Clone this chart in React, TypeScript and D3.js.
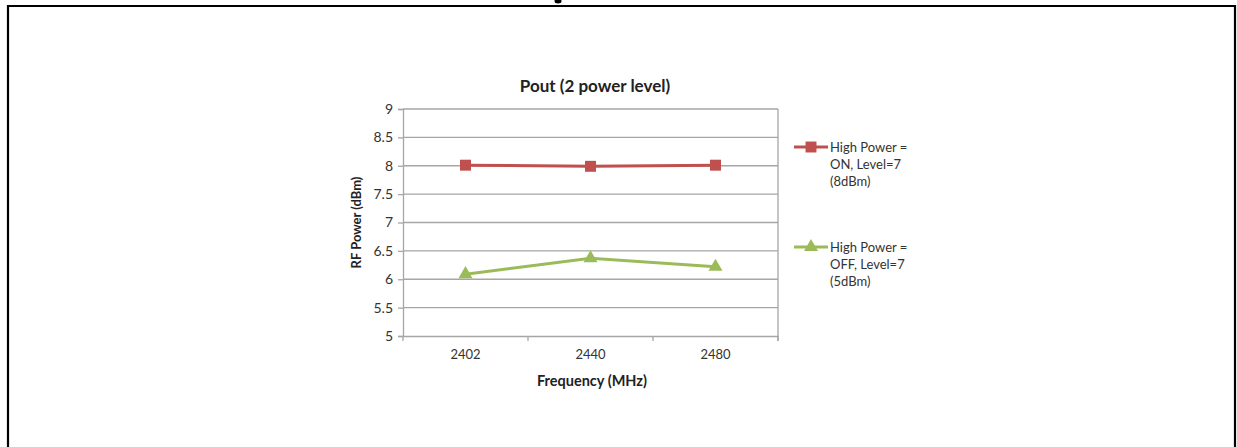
import React, { useEffect, useRef } from 'react';
import * as d3 from 'd3';

const frequencies = ['2402', '2440', '2480'];
const highPowerOn = [8.01, 7.99, 8.01];
const highPowerOff = [6.09, 6.37, 6.22];
const yTicks = [5, 5.5, 6, 6.5, 7, 7.5, 8, 8.5, 9];
const seriesNames = [
  ['High Power =', 'ON, Level=7', '(8dBm)'],
  ['High Power =', 'OFF, Level=7', '(5dBm)'],
];
const seriesColors = ['#C0504D', '#9BBB59'];

const W = 1237;
const H = 447;
const FONT = 'Lato, "Open Sans", sans-serif';

const App: React.FC = () => {
  const ref = useRef<SVGSVGElement>(null);

  useEffect(() => {
    if (!ref.current) return;
    const svg = d3.select(ref.current);
    svg.selectAll('*').remove();

    const left = 403, right = 778, top = 109, bottom = 336;

    // outer frame (only the top and sides are visible)
    svg.append('path')
      .attr('d', `M8,${H + 5} V6 H1235 V${H + 5}`)
      .attr('fill', 'none')
      .attr('stroke', '#000')
      .attr('stroke-width', 2.2);

    // bit of the heading above the frame that got cut off by the crop
    svg.append('ellipse')
      .attr('cx', 558).attr('cy', 1)
      .attr('rx', 3.5).attr('ry', 2.5)
      .attr('fill', '#000');

    const x = d3.scaleBand().domain(frequencies).range([left, right]);
    const y = d3.scaleLinear().domain([5, 9]).range([bottom, top]);

    const g = svg.append('g');

    // gridlines
    g.selectAll('line.grid')
      .data(yTicks.filter(t => t > 5))
      .enter()
      .append('line')
      .attr('x1', left).attr('x2', right)
      .attr('y1', d => y(d)).attr('y2', d => y(d))
      .attr('stroke', '#a6a6a6')
      .attr('stroke-width', 1.3);

    // plot border right side
    g.append('line')
      .attr('x1', right).attr('x2', right)
      .attr('y1', top).attr('y2', bottom + 5)
      .attr('stroke', '#a6a6a6').attr('stroke-width', 1.3);

    // y axis
    const yAxis = g.append('g')
      .attr('transform', `translate(${left},0)`)
      .call(d3.axisLeft(y).tickValues(yTicks).tickSize(5).tickPadding(5).tickFormat(d => String(d)));
    yAxis.select('.domain').attr('stroke', '#a6a6a6').attr('stroke-width', 1.3);
    yAxis.selectAll('.tick line').attr('stroke', '#a6a6a6').attr('stroke-width', 1.3);
    yAxis.selectAll('.tick text')
      .attr('font-family', FONT).attr('font-size', 14).attr('fill', '#333');

    // x axis
    const xAxis = g.append('g')
      .attr('transform', `translate(0,${bottom})`)
      .call(d3.axisBottom(x).tickSize(0).tickPadding(14));
    xAxis.select('.domain').attr('stroke', '#a6a6a6').attr('stroke-width', 1.3);
    xAxis.selectAll('.tick text')
      .attr('font-family', FONT).attr('font-size', 13).attr('fill', '#333');
    // category boundary ticks
    const bounds = frequencies.map(f => x(f) as number).concat([right]);
    xAxis.selectAll('line.bound')
      .data(bounds)
      .enter()
      .append('line')
      .attr('x1', d => d).attr('x2', d => d)
      .attr('y1', 0).attr('y2', 5)
      .attr('stroke', '#a6a6a6').attr('stroke-width', 1.3);

    const cx = (f: string) => (x(f) as number) + x.bandwidth() / 2;
    const line = d3.line<number>()
      .x((_, i) => cx(frequencies[i]))
      .y(d => y(d));

    const square = d3.symbol().type(d3.symbolSquare).size(120);
    const triangle = d3.symbol().type(d3.symbolTriangle).size(85);

    [highPowerOn, highPowerOff].forEach((vals, si) => {
      g.append('path')
        .attr('d', line(vals) || '')
        .attr('fill', 'none')
        .attr('stroke', seriesColors[si])
        .attr('stroke-width', 3);
      g.selectAll(`path.m${si}`)
        .data(vals)
        .enter()
        .append('path')
        .attr('transform', (d, i) => `translate(${cx(frequencies[i])},${y(d)})`)
        .attr('d', si === 0 ? square() : triangle())
        .attr('fill', seriesColors[si]);
    });

    // titles
    svg.append('text')
      .attr('x', 595).attr('y', 92)
      .attr('text-anchor', 'middle')
      .attr('font-family', FONT).attr('font-weight', 'bold').attr('font-size', 17).attr('fill', '#222')
      .text('Pout (2 power level)');
    svg.append('text')
      .attr('x', 592).attr('y', 386)
      .attr('text-anchor', 'middle')
      .attr('font-family', FONT).attr('font-weight', 'bold').attr('font-size', 14.5).attr('fill', '#222')
      .text('Frequency (MHz)');
    svg.append('text')
      .attr('transform', `translate(361,${(top + bottom) / 2}) rotate(-90)`)
      .attr('text-anchor', 'middle')
      .attr('font-family', FONT).attr('font-weight', 'bold').attr('font-size', 13).attr('fill', '#222')
      .text('RF Power (dBm)');

    // legend
    const legendY = [147, 247];
    seriesNames.forEach((lines, si) => {
      const lg = svg.append('g').attr('transform', `translate(794,${legendY[si]})`);
      lg.append('line')
        .attr('x1', 0).attr('x2', 34).attr('y1', 0).attr('y2', 0)
        .attr('stroke', seriesColors[si]).attr('stroke-width', 3);
      lg.append('path')
        .attr('transform', 'translate(17,0)')
        .attr('d', si === 0 ? square() : triangle())
        .attr('fill', seriesColors[si]);
      lg.selectAll('text')
        .data(lines)
        .enter()
        .append('text')
        .attr('x', 36)
        .attr('y', (_, i) => 5 + i * 17)
        .attr('font-family', FONT).attr('font-size', 13).attr('fill', '#333')
        .text(d => d);
    });
  }, []);

  return (
    <svg
      ref={ref}
      width={W}
      height={H}
      style={{ position: 'absolute', left: 0, top: 0, background: '#fff' }}
    />
  );
};

export default App;
